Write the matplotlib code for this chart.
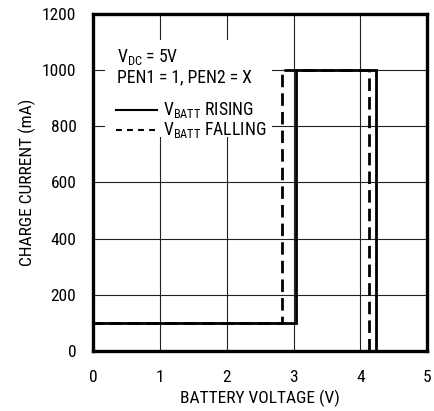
import matplotlib.pyplot as plt
from matplotlib import font_manager
from matplotlib.lines import Line2D
from matplotlib.patches import Rectangle

# use a condensed face if one is around, else Liberation Sans
names = {f.name for f in font_manager.fontManager.ttflist}
face = 'Liberation Sans'
for cand in ['Roboto Condensed', 'Open Sans Condensed', 'Liberation Sans Narrow', 'DejaVu Sans Condensed']:
    if cand in names:
        face = cand
        break

plt.rcParams['font.family'] = [face, 'DejaVu Sans']
plt.rcParams['mathtext.fontset'] = 'custom'
plt.rcParams['mathtext.rm'] = face

# charge current vs battery voltage
rise_v = [0, 3.04, 3.04, 4.24, 4.24]
rise_i = [100, 100, 1000, 1000, 0]
fall_v = [4.13, 4.13, 2.83, 2.83, 0]
fall_i = [0, 1000, 1000, 100, 100]

x_ticks = [0, 1, 2, 3, 4, 5]
y_ticks = [0, 200, 400, 600, 800, 1000, 1200]

fig = plt.figure(figsize=(4.35, 4.11), dpi=100)
ax = fig.add_axes([0.214, 0.146, 0.768, 0.82])

ax.set_xlim(0, 5)
ax.set_ylim(0, 1200)
ax.set_xticks(x_ticks)
ax.set_yticks(y_ticks)
ax.tick_params(length=0, labelsize=12.5)
ax.tick_params(axis='x', pad=14)
ax.tick_params(axis='y', pad=12)
ax.grid(True, color='#222222', linewidth=0.8)
ax.set_axisbelow(True)
for s in ax.spines.values():
    s.set_linewidth(2.4)

ax.plot(rise_v, rise_i, color='black', lw=2, solid_joinstyle='miter', zorder=4)
ax.plot(fall_v, fall_i, color='black', lw=2, dashes=(4.5, 2.2), zorder=5)

# white box behind the notes, hides the grid there
ax.add_patch(Rectangle((0.036, 0.635), 0.5, 0.288, transform=ax.transAxes,
                       facecolor='white', edgecolor='none', zorder=2))
ax.text(0.072, 0.872, r'V$_{\mathrm{DC}}$ = 5V', transform=ax.transAxes,
        fontsize=12.7, va='center', zorder=6)
ax.text(0.072, 0.813, 'PEN1 = 1, PEN2 = X', transform=ax.transAxes,
        fontsize=12.7, va='center', zorder=6)
ax.add_line(Line2D([0.069, 0.19], [0.715, 0.715], transform=ax.transAxes,
                   color='black', lw=1.5, zorder=6))
ax.add_line(Line2D([0.069, 0.19], [0.656, 0.656], transform=ax.transAxes,
                   color='black', lw=1.5, dashes=(2.8, 2.5), zorder=6))
ax.text(0.21, 0.715, r'V$_{\mathrm{BATT}}$ RISING', transform=ax.transAxes,
        fontsize=12.7, va='center', zorder=6)
ax.text(0.21, 0.656, r'V$_{\mathrm{BATT}}$ FALLING', transform=ax.transAxes,
        fontsize=12.7, va='center', zorder=6)

ax.set_xlabel('BATTERY VOLTAGE (V)', fontsize=12.5, labelpad=3)
ax.set_ylabel('CHARGE CURRENT (mA)', fontsize=12.5, labelpad=4)

fig.savefig('out.png', dpi=100)
